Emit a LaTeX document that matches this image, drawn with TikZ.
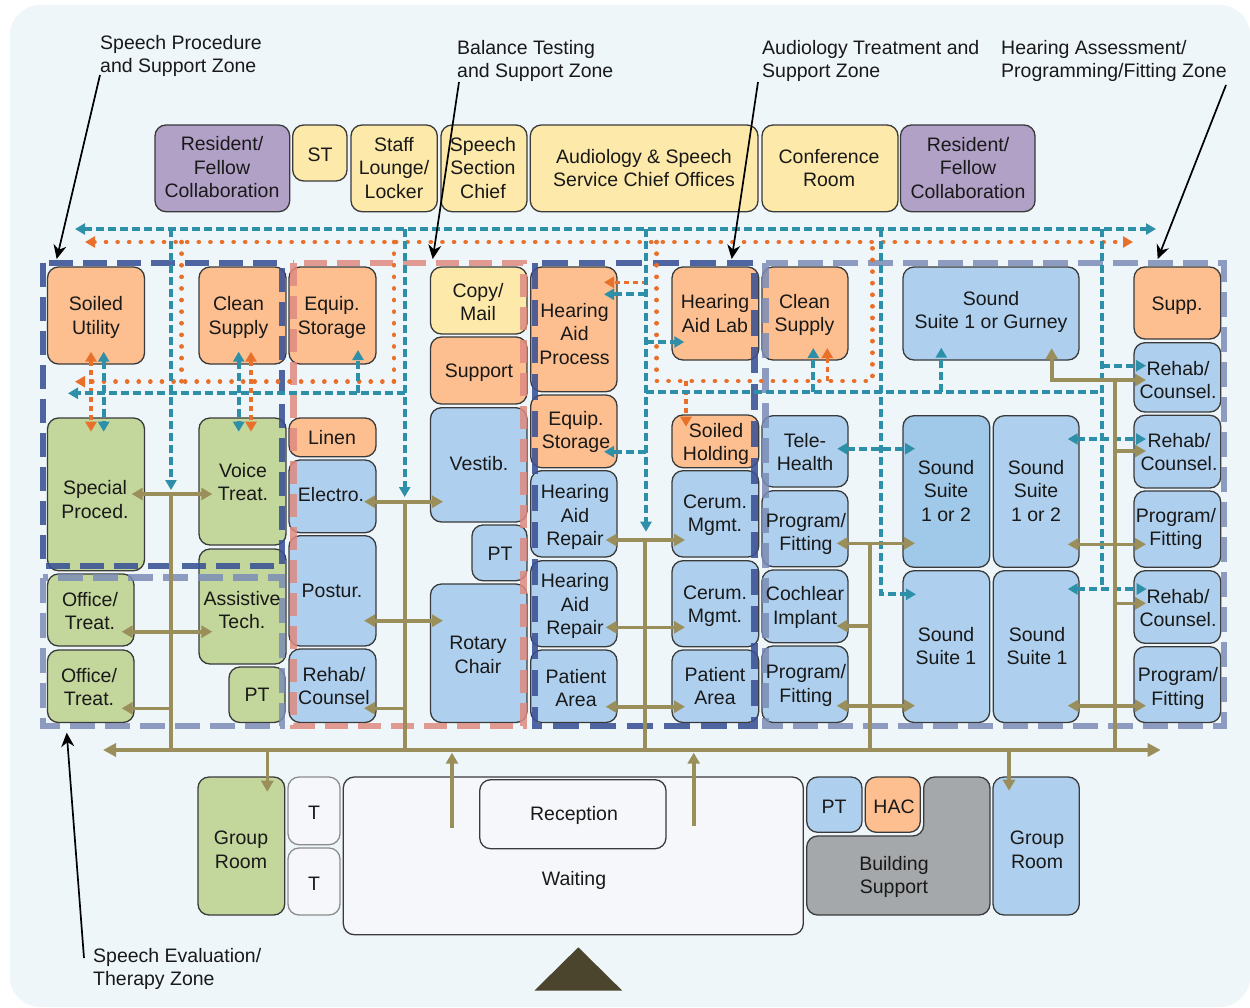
\documentclass[tikz,border=0pt]{standalone}
\usepackage{fontspec}
\setmainfont{Liberation Sans}
\usetikzlibrary{arrows.meta}
\definecolor{pagebg}{HTML}{EEF6FA}
\definecolor{roomorange}{HTML}{FDBF8F}
\definecolor{roomgreen}{HTML}{C3D69B}
\definecolor{roomblue}{HTML}{AED0EE}
\definecolor{roomblued}{HTML}{A0C8E9}
\definecolor{roomyellow}{HTML}{FDE9A9}
\definecolor{roompurple}{HTML}{B2A1C7}
\definecolor{roomgrey}{HTML}{A5A8AA}
\definecolor{roomwhite}{HTML}{F5F7FA}
\definecolor{roomedge}{HTML}{3A3A3A}
\definecolor{zonenavy}{HTML}{3A5195}
\definecolor{zoneslate}{HTML}{7B8CB5}
\definecolor{zonesalmon}{HTML}{DE8A80}
\definecolor{corr}{HTML}{9A8F5A}
\definecolor{staffteal}{HTML}{2E8FA8}
\definecolor{suporange}{HTML}{E8702A}
\definecolor{entry}{HTML}{4B452D}
\tikzset{
  room/.style={draw=roomedge,line width=1.3pt,rounded corners=11pt,inner sep=0pt,outer sep=0pt},
  lbl/.style={align=center,inner sep=0pt,font=\fontsize{19.5}{23.5}\selectfont,text=black!90},
  zonelbl/.style={align=left,anchor=north west,inner sep=0pt,font=\fontsize{19.5}{23.5}\selectfont,text=black!90},
  zonea/.style={draw=zonenavy,opacity=.88,line width=6.8pt,dash pattern=on 24pt off 10pt},
  zoneb/.style={draw=zoneslate,opacity=.85,line width=6.8pt,dash pattern=on 25pt off 10pt},
  zonec/.style={draw=zonesalmon,opacity=.85,line width=6.8pt,dash pattern=on 23pt off 10pt},
  zoned/.style={draw=zonenavy,opacity=.88,line width=6.8pt,dash pattern=on 26pt off 11pt},
  corrline/.style={draw=corr,line width=3.6pt},
  corrone/.style={corrline,-{Triangle[length=11pt,width=12pt]}},
  corrboth/.style={corrline,{Triangle[length=11pt,width=12pt]}-{Triangle[length=11pt,width=12pt]}},
  corrmain/.style={corrline,{Triangle[length=13pt,width=13pt]}-{Triangle[length=13pt,width=13pt]}},
  staffline/.style={draw=staffteal,line width=3.8pt,dash pattern=on 8pt off 4pt},
  staffone/.style={staffline,-{Triangle[length=10pt,width=11pt]}},
  staffboth/.style={staffline,{Triangle[length=10pt,width=11pt]}-{Triangle[length=10pt,width=11pt]}},
  supline/.style={draw=suporange,line width=4.6pt,line cap=round,dash pattern=on 0.1pt off 11.5pt},
  supone/.style={supline,-{Triangle[length=10pt,width=11pt]}},
  supboth/.style={supline,{Triangle[length=10pt,width=11pt]}-{Triangle[length=10pt,width=11pt]}},
  supdash/.style={draw=suporange,line width=3.6pt,dash pattern=on 5pt off 4pt},
  supdashone/.style={supdash,-{Triangle[length=10pt,width=11pt]}},
  supdashboth/.style={supdash,{Triangle[length=10pt,width=11pt]}-{Triangle[length=10pt,width=11pt]}},
  leader/.style={draw=black,line width=1.7pt,-{Stealth[length=14pt,width=13pt]}},
}
\newcommand\roombox[6]{%
  \pgfmathsetmacro\rw{#4-#2}\pgfmathsetmacro\rh{#5-#3}%
  \pgfmathsetmacro\rx{(#2+#4)/2}\pgfmathsetmacro\ry{(#3+#5)/2}%
  \node[room,fill=#6,minimum width=\rw pt,minimum height=\rh pt] (#1) at (\rx,\ry) {};}
\newcommand\rlabel[4]{\node[lbl] (#1-text) at (#2,#3) {#4};}
\begin{document}
\begin{tikzpicture}[x=1pt,y=-1pt]
\useasboundingbox (0,0) rectangle (1250,1007);
\fill[pagebg,rounded corners=30pt] (10,5) rectangle (1250,1007);
% top row
\roombox{res1}{155}{125}{289.7}{211.7}{roompurple}
\roombox{st}{292.7}{125}{347}{181}{roomyellow}
\roombox{staff}{351}{125}{437.3}{211.7}{roomyellow}
\roombox{chief}{441}{125}{527}{211.7}{roomyellow}
\roombox{offices}{530.3}{125}{758}{211.7}{roomyellow}
\roombox{conf}{762}{125}{898}{211.7}{roomyellow}
\roombox{res2}{900.5}{125}{1035}{211.7}{roompurple}
% column 1-2
\roombox{soiled}{47.5}{267}{144.5}{364}{roomorange}
\roombox{clean}{199}{267}{286}{364}{roomorange}
\roombox{equip}{289}{267}{376}{364}{roomorange}
\roombox{special}{47.5}{418}{144.5}{570.7}{roomgreen}
\roombox{voice}{199}{418}{286}{545}{roomgreen}
\roombox{linen}{289}{418}{376}{456.7}{roomorange}
\roombox{electro}{289}{460}{376}{532.7}{roomblue}
\roombox{officea}{47.5}{574}{134}{646}{roomgreen}
\roombox{officeb}{47.5}{650}{134}{722.5}{roomgreen}
\roombox{assist}{199}{549}{286}{664}{roomgreen}
\roombox{pta}{229}{667}{285}{722.5}{roomgreen}
\roombox{postur}{289}{535.7}{376}{646}{roomblue}
\roombox{rehaba}{289}{649}{376}{722.5}{roomblue}
% column 3
\roombox{copy}{430.5}{267}{527}{334}{roomyellow}
\roombox{support}{430.5}{337}{527}{404}{roomorange}
\roombox{vestib}{430.5}{407.7}{527}{522}{roomblue}
\roombox{ptb}{472}{525}{527}{580.7}{roomblue}
\roombox{rotary}{430.5}{584}{527}{722.5}{roomblue}
% column 4
\roombox{process}{530.7}{267}{617}{391.7}{roomorange}
\roombox{equipb}{530.7}{395}{617}{467.7}{roomorange}
\roombox{repaira}{530.7}{470.7}{617}{557}{roomblue}
\roombox{repairb}{530.7}{560.7}{617}{646.7}{roomblue}
\roombox{patienta}{530.7}{650}{617}{722.5}{roomblue}
% column 5
\roombox{lab}{672}{267}{758.7}{360}{roomorange}
\roombox{holding}{672}{415}{758.7}{467.7}{roomorange}
\roombox{cerama}{672}{470.7}{758.7}{557}{roomblue}
\roombox{ceramb}{672}{560.7}{758.7}{646.7}{roomblue}
\roombox{patientb}{672}{650}{758.7}{722.5}{roomblue}
% column 6
\roombox{cleanb}{762}{267}{848}{360}{roomorange}
\roombox{tele}{762}{415.7}{848}{487}{roomblue}
\roombox{proga}{762}{490.7}{848}{566.7}{roomblue}
\roombox{cochlear}{762}{570}{848}{642.7}{roomblue}
\roombox{progb}{762}{646}{848}{722.5}{roomblue}
% sound suites
\roombox{gurney}{903}{267}{1079}{360}{roomblue}
\roombox{suitea}{903}{415.7}{989.7}{567.3}{roomblued}
\roombox{suiteb}{993.3}{415.7}{1079}{567.3}{roomblue}
\roombox{suitec}{903}{570.7}{989.7}{722.5}{roomblue}
\roombox{suited}{993.3}{570.7}{1079}{722.5}{roomblue}
% right column
\roombox{supp}{1134}{267}{1220.7}{339}{roomorange}
\roombox{rehabb}{1134}{342.7}{1220.7}{412}{roomblue}
\roombox{rehabc}{1134}{415.3}{1220.7}{488}{roomblue}
\roombox{progc}{1134}{491}{1220.7}{567.3}{roomblue}
\roombox{rehabd}{1134}{570.7}{1220.7}{643.3}{roomblue}
\roombox{progd}{1134}{646.7}{1220.7}{722.5}{roomblue}
% bottom
\roombox{groupa}{198}{777}{284.7}{915}{roomgreen}
\tikzset{room/.append style={draw=black!45}}
\roombox{ta}{288}{777}{340}{844.7}{roomwhite}
\roombox{tb}{288}{848}{340}{915}{roomwhite}
\tikzset{room/.append style={draw=roomedge}}
\roombox{waiting}{343.3}{777}{803.3}{934.7}{roomwhite}
\roombox{reception}{479.7}{779.7}{666}{848.7}{roomwhite}
\roombox{ptc}{806.7}{777}{862}{832.3}{roomblue}
\roombox{hac}{865.3}{777}{920.3}{832.3}{roomorange}
\draw[room,fill=roomgrey] (806.7,836) -- (923.7,836) -- (923.7,777) -- (990,777) -- (990,915) -- (806.7,915) -- cycle;
\roombox{groupb}{993}{777}{1079.3}{915}{roomblue}
\fill[entry] (534.3,990.7) -- (578.3,947.3) -- (622.3,990.7) -- cycle;
% zones
\draw[zonea] (43,263) rectangle (282,566);
\draw[zoneb] (43,577.7) rectangle (282,726);
\draw[zonec] (293.3,263) rectangle (523.5,726);
\draw[zoned] (535,263) rectangle (754.7,726);
\draw[zoneb] (765.7,263) rectangle (1224,726);
% coordinates of the circulation network
\foreach \n/\x/\y in {
 cml/103/750, cmr/1160.7/750, sa/171/750, sb/404.7/750, sc/645/750, sd/870/750, se/1115/750,
 ga/171/494, gal/131.7/494, gar/212.3/494, gbl/121.7/631.7, gbr/212.3/631.7, gc/171/708.3, gcl/121.7/708.3,
 ha/404.7/501.7, hal/364/501.7, har/443/501.7, hbl/364/620.7, hbr/443/620.7, hc/404.7/708.3, hcl/364/708.3,
 ia/645/540, ial/605.7/540, iar/685/540, ibl/605.7/627.3, ibr/685/627.3, icl/605.7/706.7, icr/685/706.7,
 ja/870/543.3, jal/836.7/543.3, jar/915/543.3, jb/870/626, jbl/836.7/626, jcl/836.7/705.7, jcr/915/705.7,
 ka/1115/380, kae/1146/380, kc/1051.7/380, kce/1051.7/348.3, kb/1115/451, kbe/1146/451,
 kdl/1067.7/544.3, kdr/1146/544.3, kf/1115/603.3, kfe/1146/603.3, kgl/1067.7/705.7, kgr/1146/705.7,
 da/267.3/750, dae/267.3/791.7, db/1009/750, dbe/1009/790.7,
 ua/452/827.7, uae/452/752.7, ub/693.7/826, ube/693.7/752.7,
 tl/75/229, tr/1156/229, ta1/171/229, ta2/171/490, tb1/404.7/229, tb2/404.7/497, tbl/68/393.3,
 tbu/358/393.3, tbue/358/350, tc1/646/229, tc2/646/531.7, tca/646/294.3, tcae/604/294.3, tcc/646/342, tcce/684.3/342,
 tcd/646/451.7, tcde/604/451.7, tce/646/392, tf1/1101.7/392, tg1/881.3/229, tg2/881.3/594.3, tg2e/916/594.3,
 tgl/837.3/448.7, tgr/915/448.7, th1/1101.7/229, th2/1101.7/589, thr/1146.7/589, thl/1067.7/589,
 tha/1101.7/365.7, thae/1146/365.7, tbl2/1067.7/439, tbr2/1146/439,
 tua/813.3/392, tuae/813.3/348, tub/941.3/392, tube/941.3/347.7,
 tva/103.7/351.7, tvb/103.7/431.7, twa/238.7/351.7, twb/238.7/431.7,
 ol/85/242, or/1133/242, oa1/181.7/242, oa2/181.7/381.7, oal/75/381.7, ob2/394/381.7, ob1/394/242,
 oc1/656.7/242, oc2/656.7/381, od2/872.3/381, od1/872.3/242, oe/686/381, oee/686/426.7, of/827.3/381, ofe/827.3/348,
 og/646.7/282.3, oge/604/282.3, ova/91/351.7, ovb/91/431.7, owa/251/351.7, owb/251/431.7,
 tbh/404.7/393.3}
 {\coordinate (\n) at (\x,\y);}
% orange
\draw[supboth] (ol) -- (or);
\draw[supline] (oa1) -- (oa2);
\draw[supline] (ob1) -- (ob2);
\draw[supone] (ob2) -- (oal);
\draw[supline] (oc1) -- (oc2) -- (od2) -- (od1);
\draw[supdashone] (oe) -- (oee);
\draw[supdashone] (of) -- (ofe);
\draw[supdashone] (og) -- (oge);
\draw[supdashboth] (ova) -- (ovb);
\draw[supdashboth] (owa) -- (owb);
% teal
\draw[staffboth] (tl) -- (tr);
\draw[staffone] (ta1) -- (ta2);
\draw[staffone] (tb1) -- (tb2);
\draw[staffone] (tbh) -- (tbl);
\draw[staffone] (tbu) -- (tbue);
\draw[staffone] (tc1) -- (tc2);
\draw[staffone] (tca) -- (tcae);
\draw[staffone] (tcc) -- (tcce);
\draw[staffone] (tcd) -- (tcde);
\draw[staffline] (tce) -- (tf1);
\draw[staffone] (tg1) -- (tg2) -- (tg2e);
\draw[staffboth] (tgl) -- (tgr);
\draw[staffline] (th1) -- (th2);
\draw[staffboth] (thl) -- (thr);
\draw[staffone] (tha) -- (thae);
\draw[staffboth] (tbl2) -- (tbr2);
\draw[staffone] (tua) -- (tuae);
\draw[staffone] (tub) -- (tube);
\draw[staffboth] (tva) -- (tvb);
\draw[staffboth] (twa) -- (twb);
% corridors
\draw[corrmain] (cml) -- (cmr);
\draw[corrline] (sa) -- (ga);
\draw[corrline] (sb) -- (ha);
\draw[corrline] (sc) -- (ia);
\draw[corrline] (sd) -- (ja);
\draw[corrline] (se) -- (ka);
\draw[corrboth] (gal) -- (gar);
\draw[corrboth] (gbl) -- (gbr);
\draw[corrone] (gc) -- (gcl);
\draw[corrboth] (hal) -- (har);
\draw[corrboth] (hbl) -- (hbr);
\draw[corrone] (hc) -- (hcl);
\draw[corrboth] (ial) -- (iar);
\draw[corrboth] (ibl) -- (ibr);
\draw[corrboth] (icl) -- (icr);
\draw[corrboth] (jal) -- (jar);
\draw[corrone] (jb) -- (jbl);
\draw[corrboth] (jcl) -- (jcr);
\draw[corrboth,line join=miter] (kce) -- (kc) -- (kae);
\draw[corrone] (kb) -- (kbe);
\draw[corrboth] (kdl) -- (kdr);
\draw[corrone] (kf) -- (kfe);
\draw[corrboth] (kgl) -- (kgr);
\draw[corrone] (da) -- (dae);
\draw[corrone] (db) -- (dbe);
\draw[corrone] (ua) -- (uae);
\draw[corrone] (ub) -- (ube);
% labels
\rlabel{res1}{222}{167.5}{Resident/\\Fellow\\Collaboration}
\rlabel{st}{320}{155}{ST}
\rlabel{staff}{394}{168}{Staff\\Lounge/\\Locker}
\rlabel{chief}{483}{168}{Speech\\Section\\Chief}
\rlabel{offices}{644}{168}{Audiology \& Speech\\Service Chief Offices}
\rlabel{conf}{829}{168}{Conference\\Room}
\rlabel{res2}{968}{168}{Resident/\\Fellow\\Collaboration}
\rlabel{soiled}{96}{317.5}{Soiled\\Utility}
\rlabel{clean}{238.5}{317.5}{Clean\\Supply}
\rlabel{equip}{332}{317.5}{Equip.\\Storage}
\rlabel{linen}{332}{438}{Linen}
\rlabel{electro}{331}{495}{Electro.}
\rlabel{special}{95}{499.5}{Special\\Proced.}
\rlabel{voice}{243}{482}{Voice\\Treat.}
\rlabel{officea}{90}{611}{Office/\\Treat.}
\rlabel{officeb}{89}{687}{Office/\\Treat.}
\rlabel{assist}{242}{610}{Assistive\\Tech.}
\rlabel{pta}{257}{695}{PT}
\rlabel{postur}{332}{591}{Postur.}
\rlabel{rehaba}{334}{686}{Rehab/\\Counsel}
\rlabel{copy}{478}{302}{Copy/\\Mail}
\rlabel{support}{479}{373}{Support}
\rlabel{vestib}{479}{464}{Vestib.}
\rlabel{ptb}{500}{554}{PT}
\rlabel{rotary}{478}{655}{Rotary\\Chair}
\rlabel{process}{574.5}{334}{Hearing\\Aid\\Process}
\rlabel{equipb}{576}{432}{Equip.\\Storage}
\rlabel{repaira}{575}{517}{Hearing\\Aid\\Repair}
\rlabel{repairb}{575}{606}{Hearing\\Aid\\Repair}
\rlabel{patienta}{576}{688}{Patient\\Area}
\rlabel{lab}{715}{313.5}{Hearing\\Aid Lab}
\rlabel{cleanb}{804.5}{315}{Clean\\Supply}
\rlabel{holding}{716}{444}{Soiled\\Holding}
\rlabel{cerama}{715}{515}{Cerum.\\Mgmt.}
\rlabel{ceramb}{715}{606}{Cerum.\\Mgmt.}
\rlabel{patientb}{715}{686}{Patient\\Area}
\rlabel{tele}{805}{452}{Tele-\\Health}
\rlabel{proga}{806}{534}{Program/\\Fitting}
\rlabel{cochlear}{805}{607.5}{Cochlear\\Implant}
\rlabel{progb}{806}{685.5}{Program/\\Fitting}
\rlabel{gurney}{991}{312}{Sound\\Suite 1 or Gurney}
\rlabel{suitea}{946}{491}{Sound\\Suite\\1 or 2}
\rlabel{suiteb}{1036}{491}{Sound\\Suite\\1 or 2}
\rlabel{suitec}{946}{646}{Sound\\Suite 1}
\rlabel{suited}{1037}{646}{Sound\\Suite 1}
\rlabel{supp}{1177}{306}{Supp.}
\rlabel{rehabb}{1178}{380}{Rehab/\\Counsel.}
\rlabel{rehabc}{1179}{452}{Rehab/\\Counsel.}
\rlabel{progc}{1176}{529}{Program/\\Fitting}
\rlabel{rehabd}{1178}{608}{Rehab/\\Counsel.}
\rlabel{progd}{1178}{688.5}{Program/\\Fitting}
\rlabel{groupa}{241}{850}{Group\\Room}
\rlabel{ta}{314}{813}{T}
\rlabel{tb}{314}{884}{T}
\rlabel{reception}{574}{815}{Reception}
\rlabel{waiting}{574}{880}{Waiting}
\rlabel{ptc}{834}{807}{PT}
\rlabel{hac}{894}{807}{HAC}
\rlabel{building}{894}{877}{Building\\Support}
\rlabel{groupb}{1037}{850}{Group\\Room}
% zone labels and leaders
\node[zonelbl] (zspeech) at (100,35) {Speech Procedure\\and Support Zone};
\node[zonelbl] (zbalance) at (457,40) {Balance Testing\\and Support Zone};
\node[zonelbl] (zaudio) at (762,40) {Audiology Treatment and\\Support Zone};
\node[zonelbl] (zhear) at (1001,40) {Hearing Assessment/\\Programming/Fitting Zone};
\node[zonelbl] (zeval) at (93,948) {Speech Evaluation/\\Therapy Zone};
\coordinate (lspeech) at (100,75); \coordinate (tspeech) at (56.7,259);
\coordinate (lbalance) at (459,82); \coordinate (tbalance) at (432.7,259);
\coordinate (laudio) at (758,82); \coordinate (taudio) at (731.7,259);
\coordinate (lhear) at (1226,85); \coordinate (thear) at (1157.7,259);
\coordinate (leval) at (84,958); \coordinate (teval) at (66.7,732.7);
\draw[leader] (lspeech) -- (tspeech);
\draw[leader] (lbalance) -- (tbalance);
\draw[leader] (laudio) -- (taudio);
\draw[leader] (lhear) -- (thear);
\draw[leader] (leval) -- (teval);
\end{tikzpicture}
\end{document}
